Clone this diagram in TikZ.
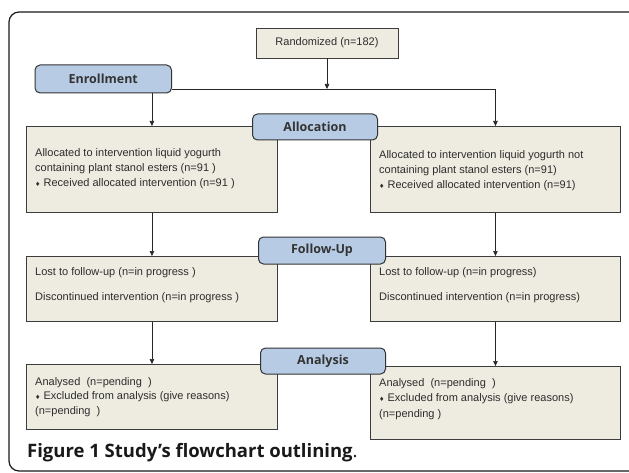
\documentclass[tikz,border=0pt]{standalone}
\usepackage{fontspec}
\setmainfont{Liberation Sans}
\newfontfamily\headfont{Open Sans}
\newfontfamily\dingfont{DejaVu Sans}
\usetikzlibrary{arrows.meta}
\definecolor{boxfill}{RGB}{238,235,225}
\definecolor{headfill}{RGB}{183,204,228}
\definecolor{edgegray}{RGB}{60,60,60}
\definecolor{textgray}{RGB}{45,45,45}
\newcommand{\dia}{{\dingfont\fontsize{6}{6}\selectfont ♦}\ }

\begin{document}
\begin{tikzpicture}[x=1pt, y=-1pt,
    box/.style={draw=edgegray, fill=boxfill, line width=0.9pt, inner sep=0pt, anchor=north west},
    head/.style={draw=black!80, fill=headfill, rounded corners=5pt, line width=1pt,
        font=\headfont\bfseries\fontsize{12.5}{14}\selectfont, text=black!80},
    txt/.style={anchor=north west, inner sep=0pt, align=left, text=textgray,
        font=\fontsize{11}{15.3}\selectfont},
    arr/.style={-{Triangle[length=5pt,width=4.5pt]}, line width=0.7pt, draw=black!85}]
    \useasboundingbox (0,0) rectangle (629,473);
    \draw [line width=1.2pt, draw=black!90, rounded corners=10pt] (9,12) rectangle (640,471);

    % boxes
    \node [box, anchor=center, minimum width=142pt, minimum height=30pt, text=textgray,
        font=\fontsize{11}{13}\selectfont] (rand) at (327,43) {Randomized (n=182)};
    \node [box, minimum width=251pt, minimum height=86pt] (alloL) at (26,126) {};
    \node [box, minimum width=250pt, minimum height=86pt] (alloR) at (370,126) {};
    \node [box, minimum width=251pt, minimum height=65pt] (fuL) at (26,256) {};
    \node [box, minimum width=250pt, minimum height=65pt] (fuR) at (370,256) {};
    \node [box, minimum width=251pt, minimum height=65pt] (anL) at (26,364) {};
    \node [box, minimum width=250pt, minimum height=73pt] (anR) at (370,366) {};

    % box texts
    \node [txt] (alloLtxt) at (35,148) {Allocated to intervention liquid yogurth\\
        containing plant stanol esters (n=91~)\\ \dia Received allocated intervention (n=91~)};
    \node [txt] (alloRtxt) at (379,150) {Allocated to intervention liquid yogurth not\\
        containing plant stanol esters (n=91)\\ \dia Received allocated intervention (n=91)};
    \node [txt] (fuLtxt) at (35,267) {Lost to follow-up (n=in progress~)\\[9.7pt]
        Discontinued intervention (n=in progress~)};
    \node [txt] (fuRtxt) at (379,267) {Lost to follow-up (n=in progress)\\[9.7pt]
        Discontinued intervention (n=in progress)};
    \node [txt] (anLtxt) at (35,377) {Analysed~~(n=pending~~)\\[-0.8pt]
        \dia Excluded from analysis (give reasons)\\[-0.8pt] (n=pending~~)};
    \node [txt] (anRtxt) at (379,378) {Analysed~~(n=pending~~)\\[0.2pt]
        \dia Excluded from analysis (give reasons)\\[0.2pt] (n=pending~)};

    % stage labels
    \node [head, minimum width=136.5pt, minimum height=28pt] (enrol) at (103.25,79) {Enrollment};
    \node [head, minimum width=125pt, minimum height=26pt] (alloc) at (315,127) {Allocation};
    \node [head, minimum width=127pt, minimum height=27pt] (follow) at (322,250.5) {Follow-Up};
    \node [head, minimum width=125pt, minimum height=26pt] (anal) at (323,361) {Analysis};

    % connectors
    \coordinate (split) at (327,89);
    \draw [arr] (rand) -- (split);
    \draw [arr] (enrol.east |- split) -| (alloR.north);
    \draw [arr] (enrol.south -| alloL.north) -- (alloL.north);
    \draw [arr] (alloL.south) -- (fuL.north);
    \draw [arr] (alloR.south) -- (fuR.north);
    \draw [arr] (fuL.south) -- (anL.north);
    \draw [arr] (fuR.south) -- (anR.north);

    \node [anchor=base west, inner sep=0pt, font=\headfont\bfseries\fontsize{18.5}{20}\selectfont,
        text=black!90] (capt) at (27,457) {Figure 1 Study’s flowchart outlining\mdseries.};
\end{tikzpicture}
\end{document}
